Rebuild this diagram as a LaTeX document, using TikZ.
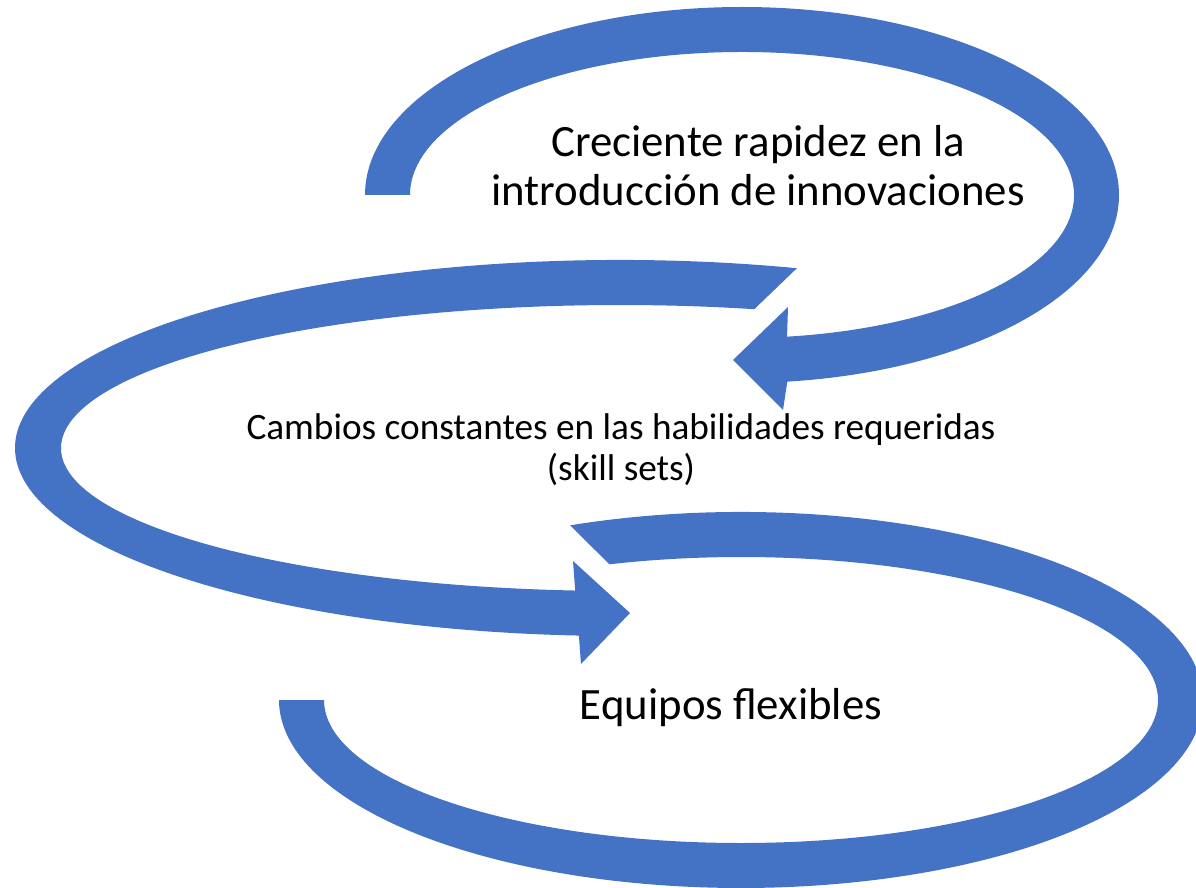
\documentclass[tikz,border=0pt]{standalone}
\usepackage{fontspec}
\setmainfont{Carlito}
\definecolor{officeblue}{HTML}{4472C4}
\begin{document}
\begin{tikzpicture}[x=0.02cm,y=-0.02cm,
  band/.style={fill=officeblue,draw=none},
  bigtext/.style={inner sep=0pt,align=center,font={\fontsize{25.5}{27.8}\selectfont}},
  smalltext/.style={inner sep=0pt,align=center,font={\fontsize{21.2}{23.2}\selectfont}}]
\useasboundingbox (0,0) rectangle (1196,888);
% centres of the three elliptical arrows
\coordinate (c1) at (742,195);
\coordinate (c2) at (620,448);
\coordinate (c3) at (741,700);
% arrowhead points
\coordinate (a1top) at (788,307);
\coordinate (a1tip) at (733,360);
\coordinate (a1bot) at (783,410);
\coordinate (a2top) at (573,561);
\coordinate (a2tip) at (630,613);
\coordinate (a2bot) at (581,664);
% arrow 1 (top)
\fill[band] ([shift={(c1)}]180:377 and 188)
  arc[start angle=180,end angle=443.1,x radius=377,y radius=188]
  -- (a1bot) -- (a1tip) -- (a1top)
  -- ([shift={(c1)}]442.2:332 and 143)
  arc[start angle=442.2,end angle=180,x radius=332,y radius=143]
  -- cycle;
% arrow 2 (middle)
\fill[band] ([shift={(c2)}]287:605 and 188)
  arc[start angle=287,end angle=93.9,x radius=605,y radius=188]
  -- (a2bot) -- (a2tip) -- (a2top)
  -- ([shift={(c2)}]94.6:559 and 143)
  arc[start angle=94.6,end angle=283.9,x radius=559,y radius=143]
  -- cycle;
% arrow 3 (bottom)
\fill[band] ([shift={(c3)}]248.3:462 and 188)
  arc[start angle=248.3,end angle=540,x radius=462,y radius=188]
  -- ([shift={(c3)}]540:417 and 143)
  arc[start angle=540,end angle=251.6,x radius=417,y radius=143]
  -- cycle;
% texts
\node[bigtext] (t1) at (758,166) {Creciente rapidez en la\\introducción de innovaciones};
\node[smalltext] (t2) at (621,450) {Cambios constantes en las habilidades requeridas\\(skill sets)};
\node[bigtext] (t3) at (731,708) {Equipos flexibles};
\end{tikzpicture}
\end{document}
